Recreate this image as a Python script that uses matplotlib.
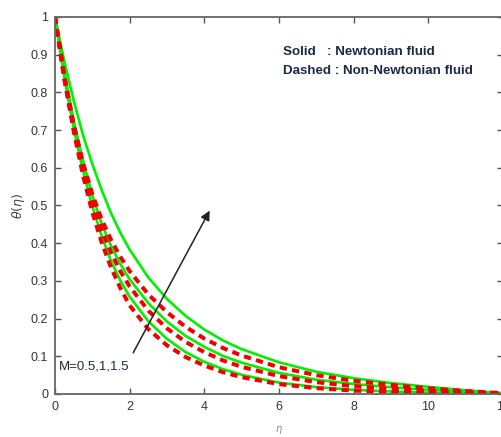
import numpy as np
import matplotlib
matplotlib.use('Agg')
import matplotlib.pyplot as plt
from matplotlib.ticker import MultipleLocator

plt.rcParams['font.family'] = ['Liberation Sans', 'DejaVu Sans']
plt.rcParams['mathtext.fontset'] = 'dejavusans'

# eta grid the values were read on
eta = [0, 0.25, 0.5, 0.75, 1, 1.25, 1.5, 1.75, 2, 2.5, 3, 3.5, 4, 4.5, 5, 6, 7, 8, 9, 10, 11, 12]

# solid: Newtonian fluid, M = 0.5, 1, 1.5
newt_m05 = [1, 0.839, 0.705, 0.592, 0.497, 0.419, 0.353, 0.301, 0.258, 0.193, 0.146, 0.111,
            0.0854, 0.0659, 0.0508, 0.0302, 0.0183, 0.0111, 0.0065, 0.0035, 0.0015, 0]
newt_m10 = [1, 0.852, 0.726, 0.619, 0.527, 0.452, 0.393, 0.345, 0.304, 0.241, 0.192, 0.154,
            0.125, 0.101, 0.083, 0.056, 0.038, 0.0265, 0.018, 0.011, 0.006, 0.001]
newt_m15 = [1, 0.882, 0.779, 0.687, 0.610, 0.541, 0.480, 0.428, 0.383, 0.309, 0.252, 0.207,
            0.171, 0.142, 0.119, 0.084, 0.059, 0.042, 0.029, 0.019, 0.010, 0.002]

# dashed: non-Newtonian fluid, M = 0.5, 1, 1.5
nonn_m05 = [1, 0.835, 0.698, 0.580, 0.482, 0.402, 0.336, 0.281, 0.235, 0.172, 0.129, 0.098,
            0.0755, 0.0580, 0.0446, 0.0262, 0.0155, 0.0091, 0.0052, 0.003, 0.001, 0]
nonn_m10 = [1, 0.839, 0.705, 0.595, 0.507, 0.436, 0.375, 0.326, 0.285, 0.221, 0.174, 0.138,
            0.111, 0.089, 0.072, 0.0474, 0.0314, 0.0209, 0.0135, 0.008, 0.004, 0.001]
nonn_m15 = [1, 0.844, 0.715, 0.613, 0.530, 0.463, 0.409, 0.364, 0.326, 0.264, 0.217, 0.178,
            0.147, 0.122, 0.102, 0.071, 0.050, 0.035, 0.024, 0.015, 0.008, 0.002]

fig = plt.figure(figsize=(5.01, 4.37), dpi=100)
ax = fig.add_axes([0.1098, 0.0984, 0.894, 0.8627])

green = '#00f000'
red = '#f20000'
for y in [newt_m05, newt_m10, newt_m15]:
    ax.plot(eta, y, color=green, lw=1.9)
for y in [nonn_m05, nonn_m10, nonn_m15]:
    ax.plot(eta, y, color=red, lw=2.9, dashes=(1.8, 1.3))

ax.set_xlim(0, 12)
ax.set_ylim(0, 1)
ax.xaxis.set_major_locator(MultipleLocator(2))
ax.set_yticks(np.arange(0, 1.01, 0.1))
ax.set_yticklabels(['0', '0.1', '0.2', '0.3', '0.4', '0.5', '0.6', '0.7', '0.8', '0.9', '1'])
ax.tick_params(direction='in', top=True, right=True, length=4, width=1,
               color='#555555', labelsize=9, labelcolor='#333333', pad=5)
for s in ax.spines.values():
    s.set_color('#666666')
    s.set_linewidth(1.3)

ax.set_xlabel(r'$\eta$', fontsize=7, color='#888888', labelpad=8)
ax.set_ylabel(r'$\theta(\eta)$', fontsize=9, color='#444444', labelpad=3)

# legend text
ax.text(0.508, 0.907, 'Solid   : Newtonian fluid', transform=ax.transAxes,
        fontsize=9.6, fontweight='bold', color='#1c2a48', va='center')
ax.text(0.508, 0.857, 'Dashed : Non-Newtonian fluid', transform=ax.transAxes,
        fontsize=9.6, fontweight='bold', color='#1c2a48', va='center')

# arrow for increasing M
ax.annotate('', xy=(4.18, 0.493), xytext=(2.06, 0.103),
            arrowprops=dict(arrowstyle='-|>', color='#222222', lw=1.1,
                            mutation_scale=14))
ax.text(0.1, 0.074, 'M=0.5,1,1.5', fontsize=9.5, color='#222a3a', va='center')

fig.savefig('out.png', dpi=100)
